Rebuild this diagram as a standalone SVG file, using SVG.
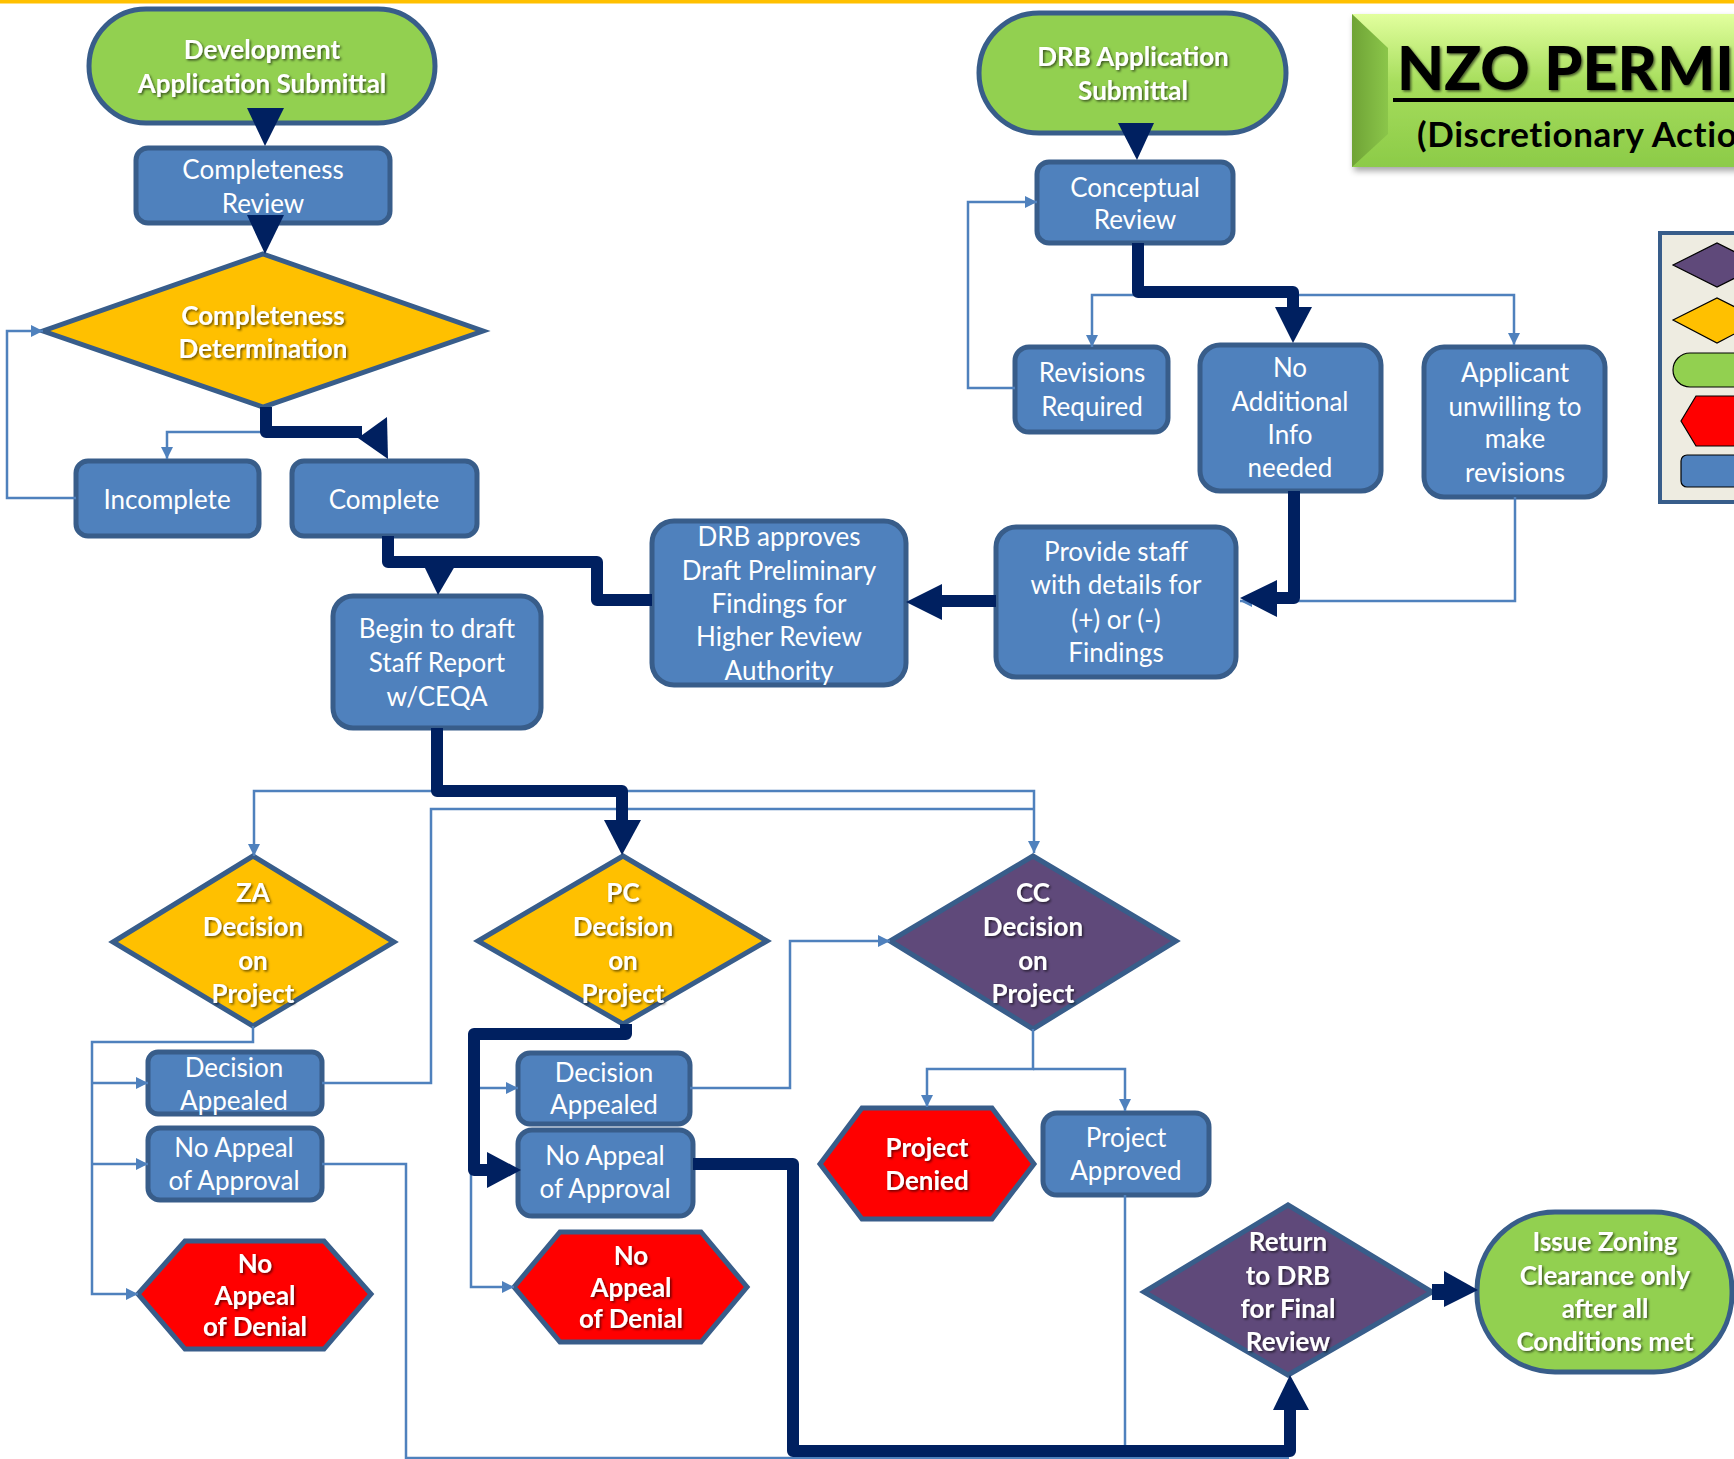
<svg xmlns="http://www.w3.org/2000/svg" width="1734" height="1459" viewBox="0 0 1734 1459">
<defs>
<style>
.box{fill:#4F81BD;stroke:#385D8A;stroke-width:5}
.start{fill:#92D050;stroke:#385D8A;stroke-width:5}
.yel{fill:#FFC000;stroke:#385D8A;stroke-width:5}
.pur{fill:#5F497A;stroke:#385D8A;stroke-width:5}
.red{fill:#FF0000;stroke:#385D8A;stroke-width:5}
.t{font-family:Lato,"Liberation Sans",sans-serif;font-size:26px;fill:#fff;text-anchor:middle}
.b{font-family:Lato,"Liberation Sans",sans-serif;font-size:26px;font-weight:bold;fill:#fff;text-anchor:middle;filter:url(#ts)}
.thin{fill:none;stroke:#4F81BD;stroke-width:2.5;marker-end:url(#ah)}
.thinn{fill:none;stroke:#4F81BD;stroke-width:2.5}
.thk{fill:none;stroke:#002060;stroke-width:12;stroke-linejoin:round}
.hd{fill:#002060}
.lg{stroke:#000;stroke-width:1.2}
</style>
<marker id="ah" viewBox="0 0 10 10" refX="10" refY="5" markerWidth="12" markerHeight="12" markerUnits="userSpaceOnUse" orient="auto"><path d="M0,0 L10,5 L0,10 z" fill="#4F81BD"/></marker>
<filter id="ts" x="-10%" y="-20%" width="130%" height="150%"><feDropShadow dx="1.5" dy="1.5" stdDeviation="1" flood-color="#000" flood-opacity="0.6"/></filter>
<filter id="sh" x="-5%" y="-10%" width="115%" height="130%"><feDropShadow dx="2" dy="4" stdDeviation="3" flood-color="#000" flood-opacity="0.35"/></filter>
<linearGradient id="tg" x1="0" y1="0" x2="0" y2="1"><stop offset="0" stop-color="#E2FF9E"/><stop offset="0.45" stop-color="#A6DD5C"/><stop offset="1" stop-color="#8CCB48"/></linearGradient>
<linearGradient id="bev" x1="0" y1="0" x2="1" y2="0"><stop offset="0" stop-color="#6FA336"/><stop offset="1" stop-color="#8BC64A"/></linearGradient>
</defs>

<rect x="0" y="0" width="1734" height="3.5" fill="#FFC000"/>

<!-- Title -->
<g id="title">
<rect x="1352" y="14" width="400" height="153" fill="url(#tg)" filter="url(#sh)"/>
<polygon points="1352,14 1388,48 1388,134 1352,167" fill="url(#bev)"/>
<text x="1397" y="90" font-family="Lato,'Liberation Sans',sans-serif" font-size="61" font-weight="900" fill="#000" filter="url(#ts)">NZO PERMIT</text>
<rect x="1393" y="98" width="360" height="4" fill="#000"/>
<text x="1417" y="147" font-family="Lato,'Liberation Sans',sans-serif" font-size="35" font-weight="bold" letter-spacing="0.6" fill="#000">(Discretionary Action</text>
</g>

<!-- Legend -->
<g id="legend">
<rect x="1660" y="233" width="100" height="269" fill="#EEECE1" stroke="#385D8A" stroke-width="4"/>
<polygon class="lg" points="1673,265 1717,243 1761,265 1717,287" fill="#5F497A"/>
<polygon class="lg" points="1673,320 1717,298 1761,320 1717,343" fill="#FFC000"/>
<rect class="lg" x="1673" y="353" width="120" height="34" rx="17" fill="#92D050"/>
<polygon class="lg" points="1681,421 1696,396 1760,396 1760,446 1696,446" fill="#FF0000"/>
<rect class="lg" x="1681" y="455" width="90" height="32" rx="6" fill="#4F81BD"/>
</g>

<!-- Nodes -->
<g id="dev-app"><rect class="start" x="89" y="9" width="346" height="114" rx="57"/>
<text class="b" x="262" y="59">Development</text><text class="b" x="262" y="93">Application Submittal</text></g>

<g id="completeness-review"><rect class="box" x="136" y="148" width="254" height="75" rx="12"/>
<text class="t" x="263" y="179">Completeness</text><text class="t" x="263" y="213">Review</text></g>

<g id="completeness-determination"><polygon class="yel" points="263,254 483,331 263,407 43,331"/>
<text class="b" x="263" y="325">Completeness</text><text class="b" x="263" y="358">Determination</text></g>

<g id="incomplete"><rect class="box" x="76" y="461" width="183" height="75" rx="12"/>
<text class="t" x="167" y="509">Incomplete</text></g>

<g id="complete"><rect class="box" x="292" y="461" width="185" height="75" rx="12"/>
<text class="t" x="384" y="509">Complete</text></g>

<g id="drb-app"><rect class="start" x="979" y="13" width="307" height="120" rx="60"/>
<text class="b" x="1133" y="66">DRB Application</text><text class="b" x="1133" y="100">Submittal</text></g>

<g id="conceptual-review"><rect class="box" x="1037" y="162" width="196" height="81" rx="12"/>
<text class="t" x="1135" y="197">Conceptual</text><text class="t" x="1135" y="229">Review</text></g>

<g id="revisions-required"><rect class="box" x="1015" y="347" width="153" height="85" rx="14"/>
<text class="t" x="1092" y="382">Revisions</text><text class="t" x="1092" y="416">Required</text></g>

<g id="no-additional"><rect class="box" x="1200" y="345" width="181" height="146" rx="20"/>
<text class="t" x="1290" y="377">No</text><text class="t" x="1290" y="411">Additional</text><text class="t" x="1290" y="444">Info</text><text class="t" x="1290" y="477">needed</text></g>

<g id="applicant-unwilling"><rect class="box" x="1424" y="347" width="181" height="150" rx="20"/>
<text class="t" x="1515" y="382">Applicant</text><text class="t" x="1515" y="416">unwilling to</text><text class="t" x="1515" y="448">make</text><text class="t" x="1515" y="482">revisions</text></g>

<g id="provide-staff"><rect class="box" x="996" y="527" width="240" height="150" rx="20"/>
<text class="t" x="1116" y="561">Provide staff</text><text class="t" x="1116" y="594">with details for</text><text class="t" x="1116" y="629">(+) or (-)</text><text class="t" x="1116" y="662">Findings</text></g>

<g id="drb-approves"><rect class="box" x="652" y="521" width="254" height="164" rx="22"/>
<text class="t" x="779" y="546">DRB approves</text><text class="t" x="779" y="580">Draft Preliminary</text><text class="t" x="779" y="613">Findings for</text><text class="t" x="779" y="646">Higher Review</text><text class="t" x="779" y="680">Authority</text></g>

<g id="begin-draft"><rect class="box" x="333" y="596" width="208" height="132" rx="20"/>
<text class="t" x="437" y="638">Begin to draft</text><text class="t" x="437" y="672">Staff Report</text><text class="t" x="437" y="706">w/CEQA</text></g>

<g id="za-decision"><polygon class="yel" points="253,856 394,942 253,1026 113,942"/>
<text class="b" x="253" y="902">ZA</text><text class="b" x="253" y="936">Decision</text><text class="b" x="253" y="970">on</text><text class="b" x="253" y="1003">Project</text></g>

<g id="pc-decision"><polygon class="yel" points="623,856 767,941 623,1024 478,941"/>
<text class="b" x="623" y="902">PC</text><text class="b" x="623" y="936">Decision</text><text class="b" x="623" y="970">on</text><text class="b" x="623" y="1003">Project</text></g>

<g id="cc-decision"><polygon class="pur" points="1033,856 1176,941 1033,1029 890,941"/>
<text class="b" x="1033" y="902">CC</text><text class="b" x="1033" y="936">Decision</text><text class="b" x="1033" y="970">on</text><text class="b" x="1033" y="1003">Project</text></g>

<g id="za-appealed"><rect class="box" x="148" y="1052" width="174" height="62" rx="10"/>
<text class="t" x="234" y="1077">Decision</text><text class="t" x="234" y="1110">Appealed</text></g>

<g id="za-no-appeal-approval"><rect class="box" x="148" y="1128" width="174" height="72" rx="12"/>
<text class="t" x="234" y="1157">No Appeal</text><text class="t" x="234" y="1190">of Approval</text></g>

<g id="za-no-appeal-denial"><polygon class="red" points="138,1294 185,1241 324,1241 371,1294 324,1349 185,1349"/>
<text class="b" x="255" y="1273">No</text><text class="b" x="255" y="1305">Appeal</text><text class="b" x="255" y="1336">of Denial</text></g>

<g id="pc-appealed"><rect class="box" x="518" y="1053" width="172" height="71" rx="12"/>
<text class="t" x="604" y="1082">Decision</text><text class="t" x="604" y="1114">Appealed</text></g>

<g id="pc-no-appeal-approval"><rect class="box" x="518" y="1130" width="175" height="86" rx="14"/>
<text class="t" x="605" y="1165">No Appeal</text><text class="t" x="605" y="1198">of Approval</text></g>

<g id="pc-no-appeal-denial"><polygon class="red" points="514,1287 560,1232 701,1232 747,1287 701,1342 560,1342"/>
<text class="b" x="631" y="1265">No</text><text class="b" x="631" y="1297">Appeal</text><text class="b" x="631" y="1328">of Denial</text></g>

<g id="project-denied"><polygon class="red" points="820,1164 862,1108 992,1108 1034,1164 992,1219 862,1219"/>
<text class="b" x="927" y="1157">Project</text><text class="b" x="927" y="1190">Denied</text></g>

<g id="project-approved"><rect class="box" x="1043" y="1113" width="166" height="82" rx="14"/>
<text class="t" x="1126" y="1147">Project</text><text class="t" x="1126" y="1180">Approved</text></g>

<g id="return-drb"><polygon class="pur" points="1288,1205 1432,1292 1288,1375 1144,1292"/>
<text class="b" x="1288" y="1251">Return</text><text class="b" x="1288" y="1285">to DRB</text><text class="b" x="1288" y="1318">for Final</text><text class="b" x="1288" y="1351">Review</text></g>

<g id="issue-zoning"><rect class="start" x="1477" y="1212" width="255" height="160" rx="78"/>
<text class="b" x="1605" y="1251">Issue Zoning</text><text class="b" x="1605" y="1285">Clearance only</text><text class="b" x="1605" y="1318">after all</text><text class="b" x="1605" y="1351">Conditions met</text></g>

<!-- Connectors -->
<g id="connectors">
<path class="thin" d="M263,432 H167 V459"/>
<path class="thin" d="M76,498 H7 V331 H43"/>
<path class="thin" d="M1138,295 H1092 V347"/>
<path class="thin" d="M1293,295 H1514 V345"/>
<path class="thin" d="M1015,388 H968 V202 H1037"/>
<path class="thin" d="M1515,497 V601 H1240"/>
<path class="thin" d="M437,791 H254 V856"/>
<path class="thin" d="M437,791 H1034 V853"/>
<path class="thinn" d="M322,1083 H431 V809 H1034"/>
<path class="thin" d="M253,1026 V1042 H92 V1294 H138"/>
<path class="thin" d="M92,1083 H148"/>
<path class="thin" d="M92,1164 H148"/>
<path class="thinn" d="M322,1164 H406 V1458 H1289"/>
<path class="thin" d="M471,1034 V1287 H514"/>
<path class="thin" d="M471,1088 H518"/>
<path class="thin" d="M690,1088 H790 V941 H890"/>
<path class="thin" d="M1033,1029 V1069 H927 V1107"/>
<path class="thin" d="M1033,1069 H1125 V1111"/>
<path class="thinn" d="M1125,1195 V1451"/>

<polygon class="hd" points="247,108 284,108 265,146"/>
<polygon class="hd" points="247,215 284,215 265,254"/>
<path class="thk" d="M266,407 V432 H362"/>
<polygon class="hd" points="358,438 387,417 388,459"/>
<polygon class="hd" points="1118,123 1154,123 1137,160"/>
<path class="thk" d="M1138,243 V292 H1293 V308"/>
<polygon class="hd" points="1275,307 1312,307 1293,343"/>
<path class="thk" d="M1294,491 V598 H1276"/>
<polygon class="hd" points="1277,580 1277,617 1240,598"/>
<path class="thk" d="M996,601 H941"/>
<polygon class="hd" points="942,584 942,620 906,602"/>
<path class="thk" d="M388,536 V562 H597 V600 H652"/>
<polygon class="hd" points="424,566 455,566 438,595"/>
<path class="thk" d="M437,728 V791 H622 V821"/>
<polygon class="hd" points="604,820 641,820 622,855"/>
<path class="thk" d="M626,1024 V1034 H474 V1170 H488"/>
<polygon class="hd" points="487,1152 487,1188 521,1170"/>
<path class="thk" d="M693,1164 H793 V1451 H1290 V1410"/>
<polygon class="hd" points="1273,1410 1309,1410 1290,1375"/>
<path class="thk" d="M1432,1292 H1445" style="stroke-width:16"/>
<polygon class="hd" points="1444,1271 1444,1307 1478,1290"/>
</g>
</svg>
